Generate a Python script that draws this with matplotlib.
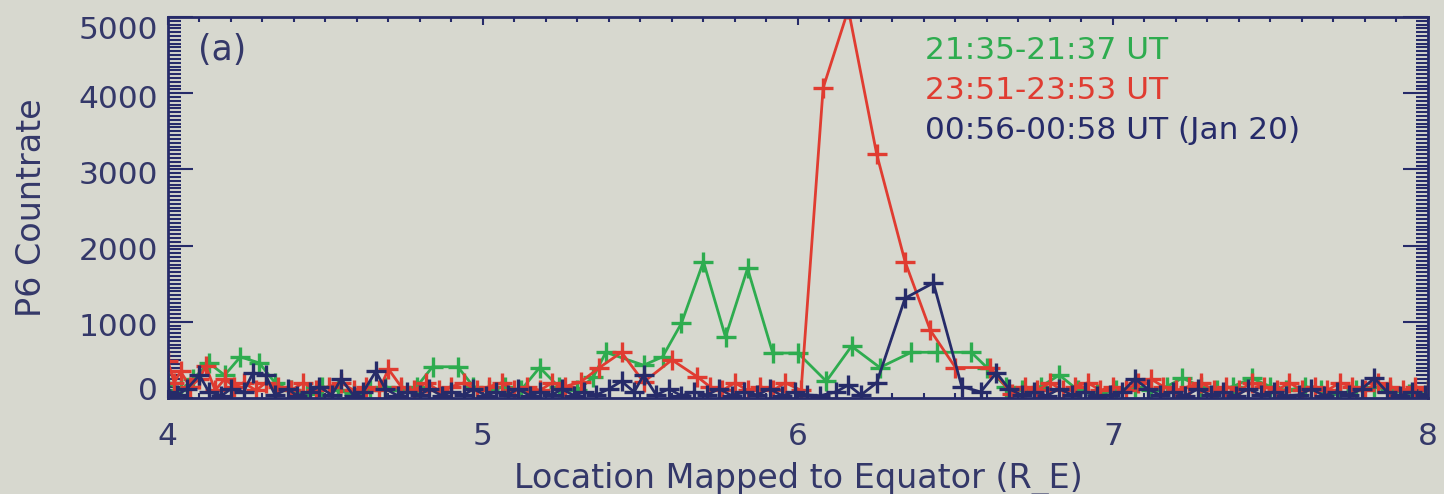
import numpy as np
import matplotlib.pyplot as plt
from matplotlib.ticker import MultipleLocator
from matplotlib.transforms import ScaledTranslation

# colours
BG = '#d7d8cf'
NAVY = '#262b69'
RED = '#e03c31'
GREEN = '#2eac4f'
TXT = '#343869'

# 21:35-21:37 UT
x_green = [4.00, 4.04, 4.08, 4.13, 4.18, 4.23, 4.29, 4.34, 4.39, 4.44, 4.49, 4.54,
           4.59, 4.64, 4.69, 4.74, 4.79, 4.84, 4.92, 4.97, 5.02, 5.07, 5.12, 5.18,
           5.24, 5.30, 5.35, 5.39, 5.51, 5.57, 5.63, 5.70, 5.77, 5.84, 5.92, 6.00,
           6.09, 6.17, 6.26, 6.36, 6.44, 6.55, 6.60, 6.66, 6.71, 6.77, 6.83, 6.89,
           6.95, 7.01, 7.07, 7.12, 7.17, 7.22, 7.28, 7.33, 7.38, 7.44, 7.50, 7.55,
           7.61, 7.66, 7.72, 7.77, 7.83, 7.88, 7.94, 8.00]
y_green = [200, 100, 250, 460, 300, 540, 460, 200, 100, 50, 150, 100,
           50, 100, 150, 100, 150, 410, 410, 150, 100, 150, 100, 400,
           150, 100, 270, 600, 430, 540, 980, 1790, 800, 1700, 590, 590,
           220, 680, 400, 600, 600, 600, 400, 150, 100, 150, 300, 100,
           50, 100, 150, 100, 150, 260, 150, 100, 150, 260, 150, 100,
           150, 100, 50, 100, 150, 100, 50, 100]

# 23:51-23:53 UT
x_red = [4.00, 4.02, 4.04, 4.07, 4.10, 4.12, 4.15, 4.18, 4.21, 4.24, 4.28, 4.31,
         4.35, 4.39, 4.43, 4.47, 4.51, 4.55, 4.59, 4.63, 4.67, 4.70, 4.74, 4.78,
         4.82, 4.86, 4.90, 4.94, 4.98, 5.02, 5.06, 5.10, 5.14, 5.18, 5.22, 5.26,
         5.31, 5.37, 5.44, 5.51, 5.60, 5.68, 5.72, 5.76, 5.80, 5.84, 5.88, 5.92,
         5.96, 6.01, 6.08, 6.16, 6.25, 6.34, 6.42, 6.50, 6.61, 6.68, 6.72, 6.76,
         6.80, 6.84, 6.88, 6.92, 6.96, 7.00, 7.04, 7.08, 7.12, 7.16, 7.20, 7.24,
         7.28, 7.32, 7.36, 7.40, 7.44, 7.48, 7.52, 7.56, 7.60, 7.64, 7.68, 7.72,
         7.76, 7.80, 7.84, 7.88, 7.92, 7.96, 8.00]
y_red = [480, 200, 350, 150, 250, 420, 100, 250, 150, 200, 100, 200,
         150, 100, 200, 100, 150, 200, 100, 150, 100, 380, 150, 100,
         200, 100, 150, 200, 100, 150, 200, 100, 150, 100, 200, 150,
         210, 400, 600, 210, 500, 280, 150, 100, 200, 100, 150, 100,
         200, 100, 4070, 5100, 3200, 1790, 890, 400, 400, 50, 150, 100,
         200, 100, 150, 200, 100, 150, 100, 200, 250, 150, 100, 150,
         200, 100, 150, 100, 200, 150, 100, 200, 100, 150, 100, 200,
         150, 100, 200, 150, 100, 150, 100]

# 00:56-00:58 UT (Jan 20)
x_navy = [4.00, 4.03, 4.06, 4.10, 4.13, 4.17, 4.20, 4.24, 4.27, 4.31, 4.34, 4.38,
          4.41, 4.45, 4.48, 4.52, 4.55, 4.59, 4.62, 4.66, 4.69, 4.73, 4.76, 4.80,
          4.83, 4.87, 4.90, 4.94, 4.97, 5.01, 5.04, 5.08, 5.11, 5.15, 5.18, 5.22,
          5.25, 5.29, 5.32, 5.36, 5.40, 5.44, 5.48, 5.51, 5.55, 5.59, 5.63, 5.67,
          5.71, 5.75, 5.79, 5.83, 5.87, 5.91, 5.95, 5.99, 6.03, 6.07, 6.12, 6.16,
          6.20, 6.25, 6.34, 6.43, 6.52, 6.58, 6.63, 6.67, 6.71, 6.75, 6.79, 6.83,
          6.87, 6.91, 6.95, 6.99, 7.03, 7.07, 7.11, 7.15, 7.19, 7.23, 7.27, 7.31,
          7.35, 7.39, 7.43, 7.47, 7.51, 7.55, 7.59, 7.63, 7.67, 7.71, 7.75, 7.79,
          7.83, 7.87, 7.91, 7.95, 7.99]
y_navy = [80, 40, 120, 300, 80, 30, 120, 80, 330, 300, 40, 120,
          30, 80, 150, 40, 250, 30, 80, 350, 120, 30, 80, 40,
          120, 30, 80, 40, 120, 30, 80, 40, 120, 30, 80, 40,
          120, 30, 80, 40, 120, 220, 80, 300, 40, 120, 30, 80,
          40, 120, 30, 80, 40, 120, 30, 80, 40, 30, 80, 170,
          40, 200, 1310, 1510, 150, 80, 330, 120, 40, 80, 30, 120,
          40, 80, 30, 40, 80, 250, 120, 40, 80, 30, 120, 40,
          80, 30, 120, 40, 80, 30, 40, 120, 30, 80, 40, 120,
          260, 80, 30, 80, 40]

labels = ['21:35-21:37 UT', '23:51-23:53 UT', '00:56-00:58 UT (Jan 20)']

plt.rcParams['font.family'] = ['DejaVu Sans']

fig = plt.figure(figsize=(14.44, 4.94), dpi=100, facecolor=BG)
ax = fig.add_axes([0.1163, 0.1943, 0.8726, 0.7713])
ax.set_facecolor(BG)

style = dict(marker='+', markersize=15, markeredgewidth=2.4, linewidth=2.0)
ax.plot(x_green, y_green, color=GREEN, **style)
ax.plot(x_red, y_red, color=RED, **style)
ax.plot(x_navy, y_navy, color=NAVY, **style)

ax.set_xlim(4, 8)
ax.set_ylim(0, 5000)
ax.xaxis.set_major_locator(MultipleLocator(1))
ax.xaxis.set_minor_locator(MultipleLocator(0.1))
ax.yaxis.set_major_locator(MultipleLocator(1000))
ax.yaxis.set_minor_locator(MultipleLocator(50))

ax.tick_params(which='both', direction='in', top=True, right=True,
               color=NAVY, labelcolor=TXT, labelsize=22.5)
ax.tick_params(axis='x', which='major', length=6, width=1.5, pad=17)
ax.tick_params(axis='x', which='minor', length=3.5, width=1.5)
ax.tick_params(axis='y', which='major', length=18, width=1.5, pad=7)
ax.tick_params(axis='y', which='minor', length=9, width=1.5)
for s in ax.spines.values():
    s.set_color(NAVY)
    s.set_linewidth(2)

ax.set_xlabel('Location Mapped to Equator (R_E)', fontsize=24, color=TXT, labelpad=8)
ax.set_ylabel('P6 Countrate', fontsize=24, color=TXT, labelpad=22)

ax.text(0.043, 0.913, '(a)', transform=ax.transAxes, fontsize=25, color=TXT,
        ha='center', va='center')
for lab, col, yy in zip(labels, [GREEN, RED, NAVY], [0.913, 0.808, 0.703]):
    ax.text(0.601, yy, lab, transform=ax.transAxes, fontsize=22.5, color=col,
            ha='left', va='center')

# y labels sit a little low, the end ones pulled inside the box
fig.canvas.draw()
yticks = ax.yaxis.get_major_ticks()
for t, val in zip(yticks, ax.get_yticks()):
    dy = -3
    if val == 0:
        dy = 10
    elif val == 5000:
        dy = -11
    lab = t.label1
    lab.set_transform(lab.get_transform() + ScaledTranslation(0, dy / 100, fig.dpi_scale_trans))

fig.savefig('out.png', dpi=100, facecolor=BG)
